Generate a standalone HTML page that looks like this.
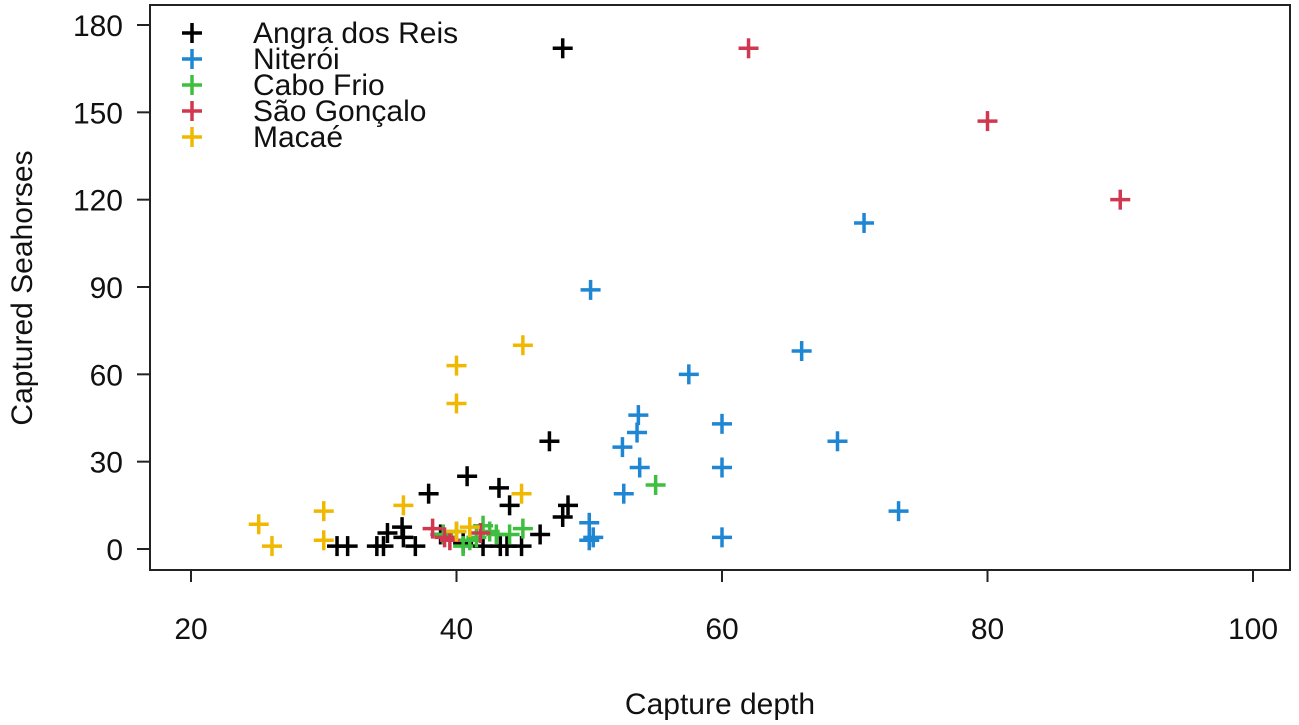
<!DOCTYPE html>
<html><head><meta charset="utf-8"><style>
body{margin:0;background:#fff}
text{font-family:"Liberation Sans",Arial,sans-serif;fill:#111}
</style></head><body>
<svg id="c" width="1299" height="720" xmlns="http://www.w3.org/2000/svg"></svg>
<script>
const seriesNames=["Angra dos Reis","Niterói","Cabo Frio","São Gonçalo","Macaé"];
const seriesColors=["#000000","#1f86d3","#3fbf3f","#d0384f","#f0b800"];
const angraX=[48,47,40.8,37.9,43.2,44,48.4,48,46.3,31,31.8,34,34.5,35.9,36.9,34.8,36,38.8,42,43.3,43.8,44.9,40.5];
const angraY=[172,37,25,19,21,15,15,11,5,1,1,1,1,7.5,1,5.5,4,5,1,1,1,1,2];
const niteroiX=[50.1,70.7,66,57.5,53.7,53.6,52.5,53.8,52.6,60,60,68.7,73.3,60,50,50,50.3];
const niteroiY=[89,112,68,60,46,40,35,28,19,43,28,37,13,4,9,3,4];
const caboX=[55,40,41,40.5,42,42.5,43,44,45,41.5,39];
const caboY=[22,6,3,1,8,6,5,5,7,4,5];
const saoX=[62,80,90,38.2,39.1,41.8,39.5];
const saoY=[172,147,120,7,4,5.5,3];
const macaeX=[45,40,40,44.9,36,30,30,25.1,26.1,41,40];
const macaeY=[70,63,50,19,15,13,3,8.5,1,7.5,6];
const xTicks=[20,40,60,80,100];
const yTicks=[0,30,60,90,120,150,180];
const allX=[angraX,niteroiX,caboX,saoX,macaeX];
const allY=[angraY,niteroiY,caboY,saoY,macaeY];
const NS="http://www.w3.org/2000/svg";
const svg=document.getElementById('c');
const sx=v=>191+(v-20)*(1253-191)/80;
const sy=v=>549-v*(524/180);
function el(t,a,p){const e=document.createElementNS(NS,t);for(const k in a)e.setAttribute(k,a[k]);(p||svg).appendChild(e);return e;}
const box=el('rect',{x:150,y:5,width:1140,height:565,fill:'none',stroke:'#222','stroke-width':2});


const xa=el('g',{});


el('line',{x1:sx(20),x2:sx(100),y1:570,y2:570,stroke:'#222','stroke-width':2},xa);
xTicks.forEach(t=>{el('line',{x1:sx(t),x2:sx(t),y1:570,y2:582,stroke:'#222','stroke-width':2},xa);
const tx=el('text',{x:sx(t),y:639,'text-anchor':'middle','font-size':30},xa);tx.textContent=t;

});
const ya=el('g',{});


el('line',{x1:150,x2:150,y1:sy(0),y2:sy(180),stroke:'#222','stroke-width':2},ya);
yTicks.forEach(t=>{el('line',{x1:137,x2:150,y1:sy(t),y2:sy(t),stroke:'#222','stroke-width':2},ya);
const tx=el('text',{x:123,y:sy(t)+11,'text-anchor':'end','font-size':30},ya);tx.textContent=t;

});
const xt=el('text',{x:720,y:714,'text-anchor':'middle','font-size':30});xt.textContent='Capture depth';


const yt=el('text',{x:32,y:288,'text-anchor':'middle','font-size':30,transform:'rotate(-90 32 288)'});yt.textContent='Captured Seahorses';


function cross(x,y,c,p){const g=el('g',{stroke:c,'stroke-width':3.5},p);el('line',{x1:x-10,x2:x+10,y1:y,y2:y},g);el('line',{x1:x,x2:x,y1:y-10,y2:y+10},g);return g;}
allX.forEach((xs,s)=>{const g=el('g',{});


xs.forEach((v,i)=>{const m=cross(sx(v),sy(allY[s][i]),seriesColors[s],g);

});});
const lg=el('g',{});


seriesNames.forEach((n,i)=>{const y=33+i*26;const e=el('g',{},lg);


cross(192,y,seriesColors[i],e);const t=el('text',{x:253,y:y+10,'font-size':30},e);t.textContent=n;});
</script>
</body></html>
